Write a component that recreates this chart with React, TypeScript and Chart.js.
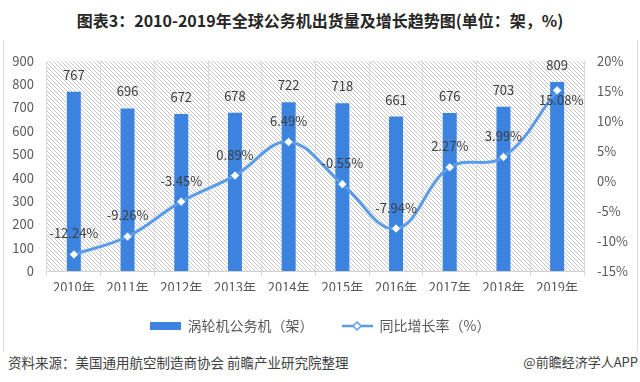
import React, { useEffect, useRef } from "react";
import { Chart, registerables } from "chart.js";

Chart.register(...registerables);

const categories = ["2010年", "2011年", "2012年", "2013年", "2014年", "2015年", "2016年", "2017年", "2018年", "2019年"];
const deliveries = [767, 696, 672, 678, 722, 718, 661, 676, 703, 809];
const growthRate = [-12.24, -9.26, -3.45, 0.89, 6.49, -0.55, -7.94, 2.27, 3.99, 15.08];
const barLabel = "涡轮机公务机（架）";
const lineLabel = "同比增长率（%）";
const titleText = "图表3：2010-2019年全球公务机出货量及增长趋势图(单位：架，%)";
const sourceText = "资料来源：美国通用航空制造商协会 前瞻产业研究院整理";
const brandText = "@前瞻经济学人APP";

const BAR_COLOR = "#3C83E0";
const LINE_COLOR = "#5B9CEA";
const TEXT_COLOR = "#595959";
const LABEL_COLOR = "#404040";
const FONT = '"Noto Sans CJK SC", "Noto Sans", sans-serif';

function makeBarIcon() {
  const c = document.createElement("canvas");
  c.width = 31;
  c.height = 8;
  const x = c.getContext("2d")!;
  x.fillStyle = BAR_COLOR;
  x.fillRect(0, 0, 31, 8);
  return c;
}

function makeLineIcon() {
  const c = document.createElement("canvas");
  c.width = 31;
  c.height = 12;
  const x = c.getContext("2d")!;
  x.strokeStyle = LINE_COLOR;
  x.lineWidth = 2.5;
  x.beginPath();
  x.moveTo(0, 6);
  x.lineTo(31, 6);
  x.stroke();
  x.beginPath();
  x.moveTo(15.5, 2);
  x.lineTo(19.5, 6);
  x.lineTo(15.5, 10);
  x.lineTo(11.5, 6);
  x.closePath();
  x.fillStyle = "#ffffff";
  x.fill();
  x.lineWidth = 1.5;
  x.stroke();
  return c;
}

const hatchPlugin = {
  id: "hatchBg",
  beforeDraw(chart: any) {
    const { ctx, chartArea } = chart;
    if (!chartArea) return;
    const p = document.createElement("canvas");
    p.width = 4;
    p.height = 4;
    const pc = p.getContext("2d")!;
    pc.strokeStyle = "#c6c6c6";
    pc.lineWidth = 1;
    pc.beginPath();
    pc.moveTo(-1, -1);
    pc.lineTo(5, 5);
    pc.moveTo(3, -1);
    pc.lineTo(5, 1);
    pc.moveTo(-1, 3);
    pc.lineTo(1, 5);
    pc.stroke();
    const pattern = ctx.createPattern(p, "repeat");
    ctx.save();
    ctx.fillStyle = "#ffffff";
    ctx.fillRect(chartArea.left, chartArea.top, chartArea.right - chartArea.left, chartArea.bottom - chartArea.top);
    if (pattern) {
      ctx.fillStyle = pattern;
      ctx.fillRect(chartArea.left, chartArea.top, chartArea.right - chartArea.left, chartArea.bottom - chartArea.top);
    }
    ctx.restore();
  },
};

const valueLabelPlugin = {
  id: "valueLabels",
  afterDatasetsDraw(chart: any) {
    const ctx = chart.ctx;
    ctx.save();
    ctx.font = `13px ${FONT}`;
    ctx.fillStyle = LABEL_COLOR;
    ctx.textAlign = "center";
    ctx.textBaseline = "middle";
    const barMeta = chart.getDatasetMeta(0);
    const barData = chart.data.datasets[0].data;
    barMeta.data.forEach((el: any, i: number) => {
      ctx.fillText(String(barData[i]), el.x, el.y - 17);
    });
    const lineMeta = chart.getDatasetMeta(1);
    const lineData = chart.data.datasets[1].data;
    const last = lineData.length - 1;
    lineMeta.data.forEach((el: any, i: number) => {
      const txt = Number(lineData[i]).toFixed(2) + "%";
      if (i === last) {
        ctx.fillText(txt, el.x + 4, el.y + 10);
      } else {
        ctx.fillText(txt, el.x, el.y - 21);
      }
    });
    ctx.restore();
  },
};

export default function App() {
  const canvasRef = useRef<HTMLCanvasElement | null>(null);

  useEffect(() => {
    if (!canvasRef.current) return;
    const barIcon = makeBarIcon();
    const lineIcon = makeLineIcon();
    const chart = new Chart(canvasRef.current, {
      type: "bar",
      data: {
        labels: categories,
        datasets: [
          {
            type: "bar",
            label: barLabel,
            data: deliveries,
            backgroundColor: BAR_COLOR,
            yAxisID: "y",
            order: 2,
            barPercentage: 0.26,
            categoryPercentage: 1,
          } as any,
          {
            type: "line",
            label: lineLabel,
            data: growthRate,
            yAxisID: "y1",
            borderColor: LINE_COLOR,
            borderWidth: 3,
            tension: 0.4,
            pointStyle: "rectRot",
            pointRadius: 4.5,
            pointBackgroundColor: "#ffffff",
            pointBorderColor: LINE_COLOR,
            pointBorderWidth: 1,
            order: 1,
          } as any,
        ],
      },
      options: {
        animation: false,
        responsive: false,
        maintainAspectRatio: false,
        layout: { padding: { top: 18, left: 0, right: 0, bottom: 9 } },
        plugins: {
          title: { display: false },
          tooltip: { enabled: false },
          legend: {
            position: "bottom",
            labels: {
              usePointStyle: true,
              pointStyleWidth: 31,
              padding: 28,
              color: TEXT_COLOR,
              font: { size: 14, family: FONT },
              generateLabels: () => [
                {
                  text: barLabel,
                  pointStyle: barIcon as any,
                  datasetIndex: 0,
                  fillStyle: BAR_COLOR,
                  strokeStyle: BAR_COLOR,
                  lineWidth: 0,
                  hidden: false,
                  fontColor: TEXT_COLOR,
                },
                {
                  text: lineLabel,
                  pointStyle: lineIcon as any,
                  datasetIndex: 1,
                  fillStyle: LINE_COLOR,
                  strokeStyle: LINE_COLOR,
                  lineWidth: 0,
                  hidden: false,
                  fontColor: TEXT_COLOR,
                },
              ],
            },
          },
        },
        scales: {
          x: {
            grid: { offset: true, color: "#d9d9d9", drawTicks: true, tickLength: 5 },
            border: { color: "#d0d0d0" },
            ticks: { color: TEXT_COLOR, font: { size: 13, family: FONT }, padding: 3, maxRotation: 0 },
            afterFit: (s: any) => {
              s.height = 20;
            },
          },
          y: {
            position: "left",
            min: 0,
            max: 900,
            grid: { display: false, drawTicks: false },
            border: { display: false },
            ticks: { stepSize: 100, color: TEXT_COLOR, font: { size: 13, family: FONT }, padding: 13 },
            afterFit: (s: any) => {
              s.width = 47;
            },
          },
          y1: {
            position: "right",
            min: -15,
            max: 20,
            grid: { display: false, drawTicks: false },
            border: { display: false },
            ticks: {
              stepSize: 5,
              color: TEXT_COLOR,
              font: { size: 13, family: FONT },
              padding: 13,
              callback: (v: any) => `${v}%`,
            },
            afterFit: (s: any) => {
              s.width = 56;
            },
          },
        },
      } as any,
      plugins: [hatchPlugin, valueLabelPlugin],
    });
    return () => chart.destroy();
  }, []);

  return (
    <div
      style={{
        position: "fixed",
        left: 0,
        top: 0,
        width: 640,
        height: 382,
        background: "#ffffff",
        overflow: "hidden",
        fontFamily: FONT,
      }}
    >
      <div
        style={{
          position: "absolute",
          left: 0,
          top: 8,
          width: 640,
          height: 24,
          lineHeight: "24px",
          textAlign: "center",
          fontSize: 16,
          fontWeight: "bold",
          color: "#262626",
          whiteSpace: "nowrap",
        }}
      >
        {titleText}
      </div>
      <div
        style={{
          position: "absolute",
          left: 3,
          top: 40,
          width: 635,
          height: 311,
          boxSizing: "border-box",
          borderLeft: "1px solid #d9d9d9",
          borderRight: "1px solid #d9d9d9",
        }}
      />
      <canvas
        ref={canvasRef}
        width={640}
        height={312}
        style={{ position: "absolute", left: 0, top: 40, width: 640, height: 312 }}
      />
      <div
        style={{
          position: "absolute",
          left: 8,
          top: 352,
          height: 20,
          lineHeight: "20px",
          fontSize: 13.5,
          color: "#404040",
          whiteSpace: "nowrap",
        }}
      >
        {sourceText}
      </div>
      <div
        style={{
          position: "absolute",
          right: 2,
          top: 352,
          height: 20,
          lineHeight: "20px",
          fontSize: 13,
          color: "#404040",
          whiteSpace: "nowrap",
        }}
      >
        {brandText}
      </div>
    </div>
  );
}
